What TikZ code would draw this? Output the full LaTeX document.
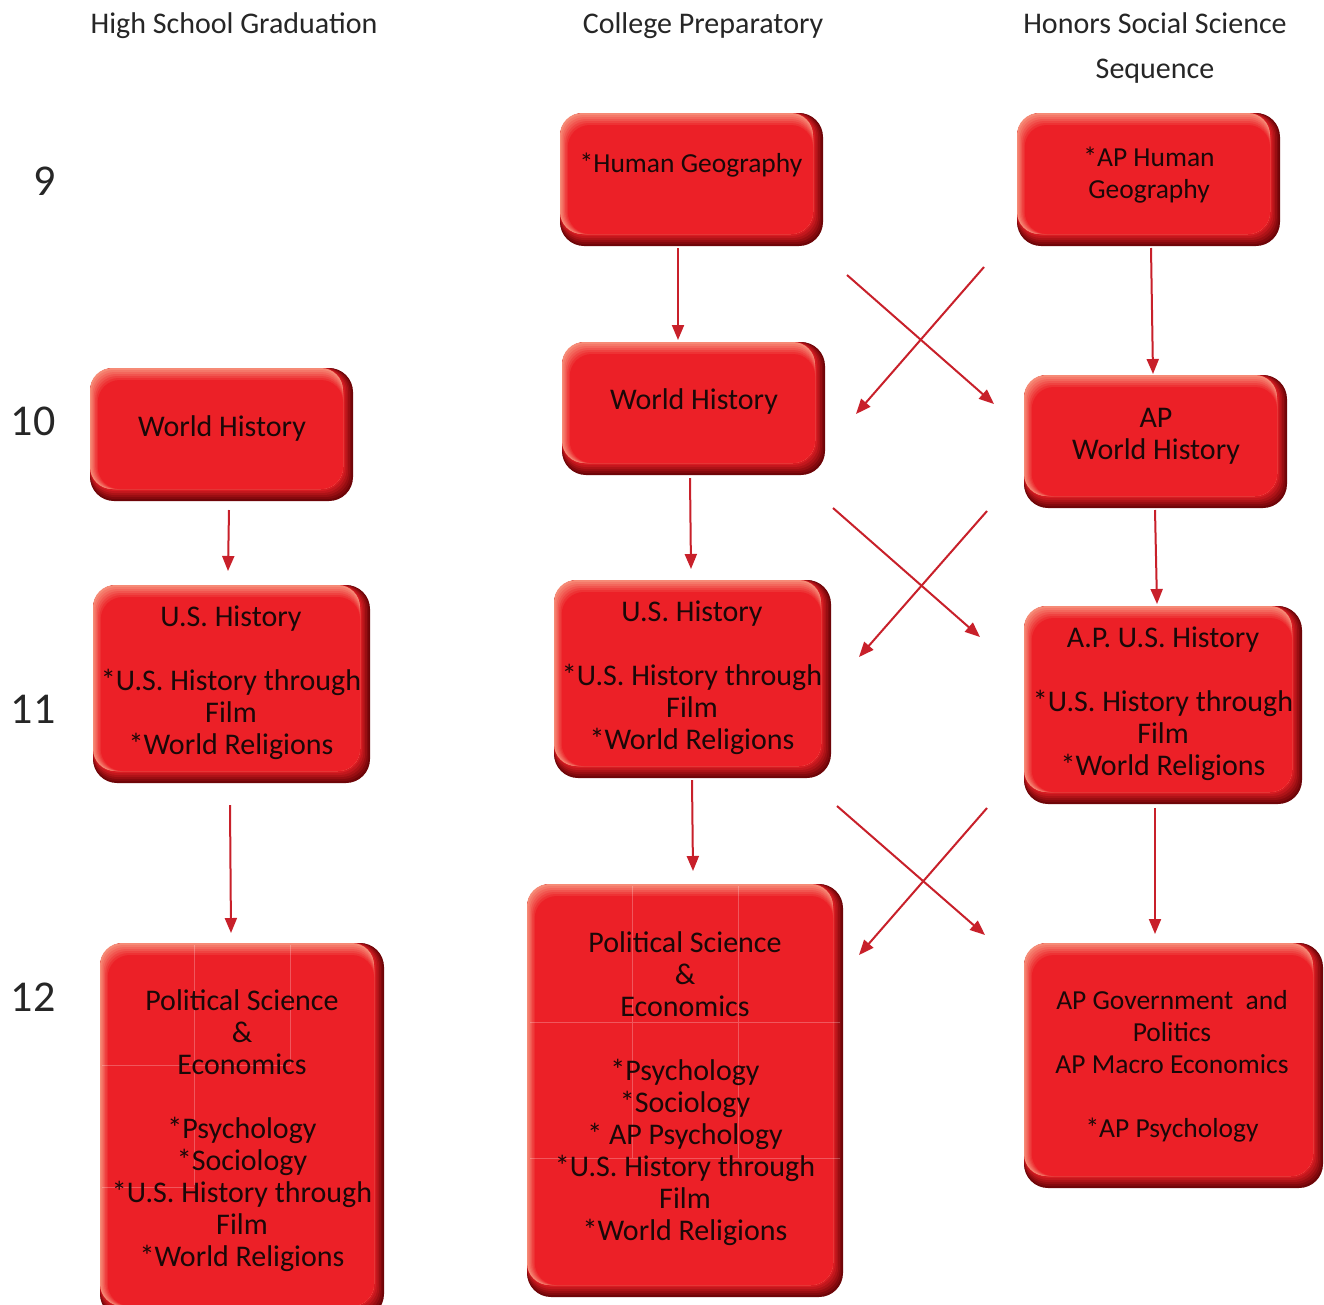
\documentclass[tikz,border=0pt]{standalone}
\usepackage{fontspec}
\setmainfont{Carlito}
\usetikzlibrary{arrows.meta,calc,fit}
\definecolor{bred}{HTML}{EC2027}
\definecolor{bdark}{HTML}{6E0508}
\definecolor{blight}{HTML}{F68A76}
\definecolor{arrred}{HTML}{C8202A}
\definecolor{txtc}{HTML}{1A0808}
\tikzset{
  txt/.style={align=center, text=txtc, inner sep=0pt, anchor=north, font=\fontsize{30}{32}\selectfont},
  txts/.style={txt, font=\fontsize{27.5}{32}\selectfont},
  head/.style={text=black!85, inner sep=0pt, font=\fontsize{30}{45}\selectfont, align=center},
  rownum/.style={text=black!85, inner sep=0pt, font=\fontsize{44}{44}\selectfont},
  conn/.style={draw=arrred, line width=2pt, -{Triangle[length=15pt,width=12pt]}},
  grid/.style={draw=white, opacity=0.25, line width=0.8pt}
}
% bevelled box: name, x1, y1, x2, y2
\newcommand{\bevelbox}[5]{%
  \foreach \k in {0,...,6}{%
    \pgfmathsetmacro\pc{\k*100/6}
    \fill[bred!\pc!bdark, rounded corners=24pt] (#2,#3) rectangle ($(#4,#5)+(-1.6*\k,-2*\k)$);
  }
  \foreach \j in {0,...,6}{%
    \pgfmathsetmacro\pc{\j*100/6}
    \fill[bred!\pc!blight, rounded corners=22pt] ($(#2,#3)+(1.3*\j,2*\j)$) rectangle ($(#4,#5)+(-10,-12)$);
  }
  \path (#2,#3) coordinate (#1nw) (#4,#5) coordinate (#1se);
  \node[fit=(#1nw)(#1se), inner sep=0pt] (#1) {};
}
\begin{document}
\begin{tikzpicture}[x=1pt,y=-1pt]
\useasboundingbox (0,0) rectangle (1324,1304);
\fill[white] (0,0) rectangle (1324,1304);

% headings
\node[head] (h1) at (234,26) {High School Graduation};
\node[head] (h2) at (703,26) {College Preparatory};
\node[head] (h3) at (1155,48) {Honors Social Science\\Sequence};

% row numbers
\node[rownum] (r9) at (45,181) {9};
\node[rownum] (r10) at (33,421) {10};
\node[rownum] (r11) at (33,709) {11};
\node[rownum] (r12) at (33,997) {12};

% boxes
\bevelbox{cpa}{560}{113}{823}{246}
\bevelbox{hoa}{1017}{113}{1280}{246}
\bevelbox{hsb}{90}{368}{353}{501}
\bevelbox{cpb}{562}{342}{825}{475}
\bevelbox{hob}{1024}{375}{1287}{508}
\bevelbox{hsc}{93}{585}{370}{783}
\bevelbox{cpc}{554}{580}{831}{778}
\bevelbox{hoc}{1024}{606}{1302}{804}
\bevelbox{hsd}{100}{943}{384}{1318}
\bevelbox{cpd}{527}{884}{843}{1297}
\bevelbox{hod}{1024}{943}{1323}{1188}

% faint slice lines
\draw[grid] (194,945) -- (194,1185) (290,945) -- (290,1065) (102,1065) -- (290,1065) (102,1187) -- (194,1187);
\draw[grid] (632,886) -- (632,1158) (738,886) -- (738,1158) (530,1022) -- (840,1022) (530,1158) -- (840,1158);

% texts
\node[txts] (tcpa) at (691,153) {*Human Geography};
\node[txts] (thoa) at (1149,147) {*AP Human\\Geography};
\node[txt] (thsb) at (222,415) {World History};
\node[txt] (tcpb) at (694,388) {World History};
\node[txt] (thob) at (1156,408) {AP\\World History};
\node[txt] (thsc) at (231,606) {U.S. History\\[32pt]*U.S. History through\\Film\\*World Religions};
\node[txt] (tcpc) at (692,601) {U.S. History\\[32pt]*U.S. History through\\Film\\*World Religions};
\node[txt] (thoc) at (1163,627) {A.P. U.S. History\\[32pt]*U.S. History through\\Film\\*World Religions};
\node[txt] (thsd) at (242,989) {Political Science\\\&\\Economics\\[32pt]*Psychology\\*Sociology\\*U.S. History through\\Film\\*World Religions};
\node[txt] (tcpd) at (685,931) {Political Science\\\&\\Economics\\[32pt]*Psychology\\*Sociology\\* AP Psychology\\*U.S. History through\\Film\\*World Religions};
\node[txts] (thod) at (1172,990) {AP Government\ \ and\\Politics\\AP Macro Economics\\[32pt]*AP Psychology};

% arrow end points
\coordinate (a1s) at (678,248);  \coordinate (a1e) at (678,340);
\coordinate (a2s) at (1151,248); \coordinate (a2e) at (1153,374);
\coordinate (a3s) at (229,510);  \coordinate (a3e) at (228,571);
\coordinate (a4s) at (690,478);  \coordinate (a4e) at (691,569);
\coordinate (a5s) at (1155,510); \coordinate (a5e) at (1157,604);
\coordinate (a6s) at (230,805);  \coordinate (a6e) at (231,933);
\coordinate (a7s) at (692,780);  \coordinate (a7e) at (693,871);
\coordinate (a8s) at (1155,808); \coordinate (a8e) at (1155,934);

\coordinate (x1s) at (847,275); \coordinate (x1e) at (994,404);
\coordinate (x2s) at (984,267); \coordinate (x2e) at (856,414);
\coordinate (x3s) at (833,508); \coordinate (x3e) at (980,637);
\coordinate (x4s) at (987,511); \coordinate (x4e) at (859,657);
\coordinate (x5s) at (837,806); \coordinate (x5e) at (985,935);
\coordinate (x6s) at (987,808); \coordinate (x6e) at (859,955);

\foreach \n in {a1,a2,a3,a4,a5,a6,a7,a8,x1,x2,x3,x4,x5,x6}{
  \draw[conn] (\n s) -- (\n e);
}
\end{tikzpicture}
\end{document}
